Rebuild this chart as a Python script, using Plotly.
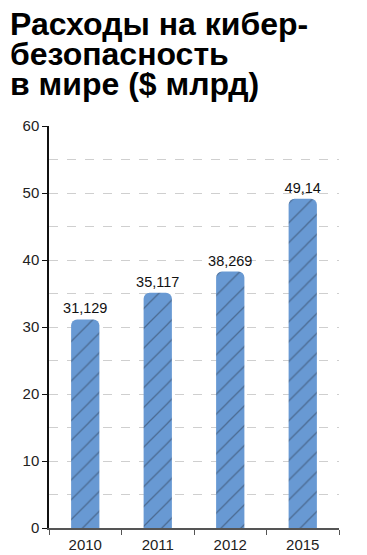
import plotly.graph_objects as go

years = ["2010", "2011", "2012", "2015"]
spending = [31.129, 35.117, 38.269, 49.14]
labels = ["31,129", "35,117", "38,269", "49,14"]
title_lines = ["Расходы на кибер-", "безопасность", "в мире ($ млрд)"]

fig = go.Figure()
fig.add_trace(go.Bar(
    x=years, y=spending, text=labels, textposition="outside", constraintext="none",
    textfont=dict(size=14.5, color="#111", family="Liberation Sans, Arial"),
    cliponaxis=False,
    marker=dict(color="#6899d3", line=dict(width=0),
                pattern=dict(shape="/", fgcolor="#2d3b50", size=14, solidity=0.09, fillmode="overlay")),
))

fig.update_layout(
    width=367, height=555,
    margin=dict(l=49, r=28, t=126, b=27),
    paper_bgcolor="white", plot_bgcolor="white",
    bargap=0.61, barcornerradius=6, showlegend=False,
    font=dict(family="Liberation Sans, Arial", color="#222"),
)
fig.update_yaxes(
    range=[0, 60], dtick=10, showline=True, linecolor="#111", linewidth=1.5,
    ticks="outside", ticklen=5, tickcolor="#111", tickfont=dict(size=15, color="#222"),
    showgrid=True, gridcolor="#cfcfcf", griddash="dash", gridwidth=1,
    minor=dict(dtick=5, showgrid=True, gridcolor="#cfcfcf", griddash="dash", gridwidth=1),
    zeroline=False, automargin=False,
)
fig.update_xaxes(
    showline=True, linecolor="#555", linewidth=1.5, ticks="outside", tickson="boundaries",
    ticklen=5, tickcolor="#555", tickfont=dict(size=15, color="#222"), ticklabelstandoff=2,
    automargin=False,
)

for i, line in enumerate(title_lines):
    fig.add_annotation(
        text="<b>" + line + "</b>", xref="paper", yref="paper",
        x=-41/290, xanchor="left", y=1, yshift=82 - 30*i,
        yanchor="bottom", showarrow=False,
        font=dict(size=32, color="#000", family="Liberation Sans, Arial"),
    )

fig.write_html("out.html")
